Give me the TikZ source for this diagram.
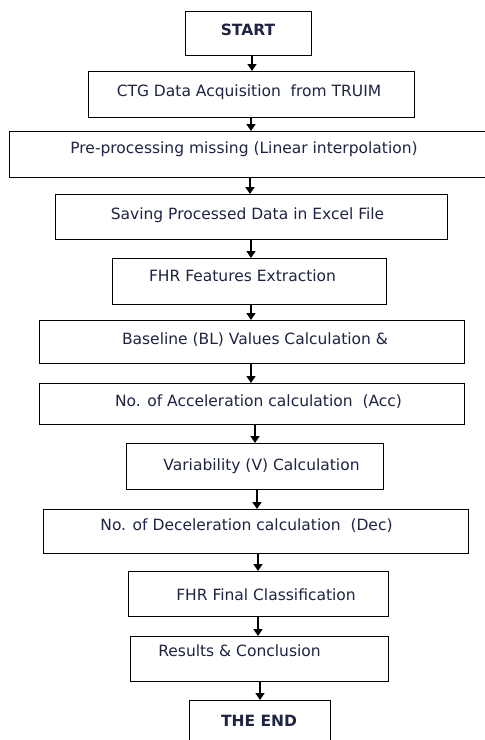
\documentclass[tikz,border=0pt]{standalone}
\usepackage{fontspec}
\setmainfont{DejaVu Sans}
\usetikzlibrary{arrows.meta}
\definecolor{txtc}{RGB}{30,36,66}
\begin{document}
\begin{tikzpicture}[x=1pt,y=-1pt,
  box/.style={draw=black, line width=1.4pt, inner sep=0pt, anchor=north west},
  txt/.style={text=txtc, font=\fontsize{15.5}{17}\selectfont, inner sep=0pt},
  arr/.style={draw=black, line width=1.6pt, -{Triangle[width=9pt,length=7pt]}}]
\clip (0,0) rectangle (485,740);
\fill[white] (0,0) rectangle (485,740);
% boxes
\node[box, minimum width=126pt, minimum height=44pt] (b1) at (185,11) {};
\node[box, minimum width=326pt, minimum height=46pt] (b2) at (88,71) {};
\node[box, minimum width=490pt, minimum height=46pt] (b3) at (9,131) {};
\node[box, minimum width=392pt, minimum height=45pt] (b4) at (55,194) {};
\node[box, minimum width=274pt, minimum height=46pt] (b5) at (112,258) {};
\node[box, minimum width=425pt, minimum height=43pt] (b6) at (39,320) {};
\node[box, minimum width=425pt, minimum height=41pt] (b7) at (39,383) {};
\node[box, minimum width=257pt, minimum height=46pt] (b8) at (126,443) {};
\node[box, minimum width=425pt, minimum height=44pt] (b9) at (43,509) {};
\node[box, minimum width=260pt, minimum height=45pt] (b10) at (128,571) {};
\node[box, minimum width=258pt, minimum height=45pt] (b11) at (130,636) {};
\node[box, minimum width=141pt, minimum height=60pt] (b12) at (189,700) {};
% texts
\node[txt] (t1) at (248,30) {\bfseries START};
\node[txt] (t2) at (249,92) {CTG Data Acquisition \ from TRUIM};
\node[txt] (t3) at (244,149) {Pre-processing missing (Linear interpolation)};
\node[txt] (t4) at (247.5,215) {Saving Processed Data in Excel File};
\node[txt] (t5) at (242.5,276) {FHR Features Extraction};
\node[txt] (t6) at (255,340) {Baseline (BL) Values Calculation \&};
\node[txt] (t7) at (258.5,402) {No. of Acceleration calculation \ (Acc)};
\node[txt] (t8) at (261.5,466) {Variability (V) Calculation};
\node[txt] (t9) at (246.5,526) {No. of Deceleration calculation \ (Dec)};
\node[txt] (t10) at (266,595) {FHR Final Classification};
\node[txt] (t11) at (239.5,651) {Results \& Conclusion};
\node[txt] (t12) at (259,721) {\bfseries THE END};
% connectors
\draw[arr] (b1.south -| 252,0) -- (b2.north -| 252,0);
\draw[arr] (b2.south -| 251,0) -- (b3.north -| 251,0);
\draw[arr] (b3.south -| 250,0) -- (b4.north -| 250,0);
\draw[arr] (b4.south -| 251,0) -- (b5.north -| 251,0);
\draw[arr] (b5.south -| 251,0) -- (b6.north -| 251,0);
\draw[arr] (b6.south -| 251,0) -- (b7.north -| 251,0);
\draw[arr] (b7.south -| 255,0) -- (b8.north -| 255,0);
\draw[arr] (b8.south -| 257,0) -- (b9.north -| 257,0);
\draw[arr] (b9.south -| 258,0) -- (b10.north -| 258,0);
\draw[arr] (b10.south -| 258,0) -- (b11.north -| 258,0);
\draw[arr] (b11.south -| 260,0) -- (b12.north -| 260,0);
\end{tikzpicture}
\end{document}
